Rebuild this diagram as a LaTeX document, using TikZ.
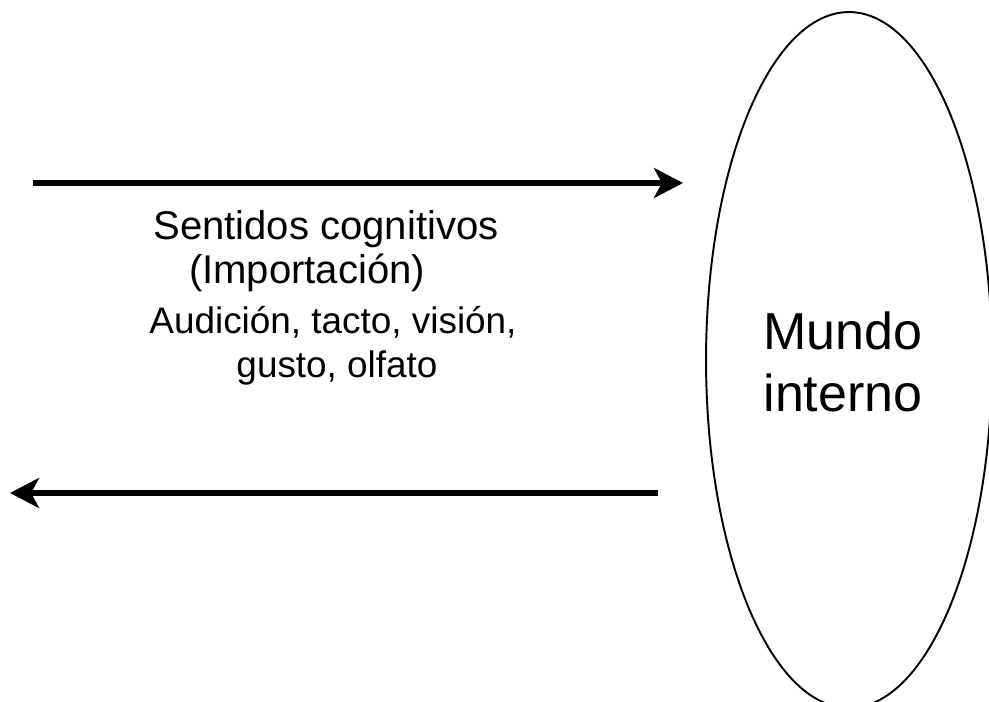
\documentclass[tikz,border=0pt]{standalone}
\usepackage{fontspec}
\setmainfont{Liberation Sans}
\usetikzlibrary{positioning,shapes.geometric,arrows.meta}

\begin{document}
\begin{tikzpicture}[x=0.02cm, y=-0.02cm,
    flow/.style={line width=3.2pt, -{Stealth[length=16.5pt, width=17pt, inset=4.5pt]}},
    big/.style={anchor=base, inner sep=0pt, font=\fontsize{22.8}{25}\selectfont},
    small/.style={anchor=base, inner sep=0pt, font=\fontsize{21}{25}\selectfont}]
                \useasboundingbox (0,0) rectangle (989,702);
                \clip (0,0) rectangle (989,702);
                % Nodes
                \node[ellipse, draw, line width=1.1pt, minimum width=5.72cm, minimum height=13.92cm,
                      inner sep=0pt, align=center, font=\fontsize{29.6}{35.3}\selectfont] (mundo) at (849,360) {};
                \node[align=center, inner sep=0pt, font=\fontsize{29.6}{35.3}\selectfont] (texto) at (843,362) {Mundo\\interno};

                \node[big] (sentidos) at (326,239) {Sentidos cognitivos};
                \node[big] (importacion) at (307,283) {(Importación)};
                \node[small] (audicion) at (333,333) {Audición, tacto, visión,};
                \node[small] (gusto) at (337,377) {gusto, olfato};

                \coordinate (entraA) at (33,183);  % Start of upper arrow
                \coordinate (entraB) at (683,183);
                \coordinate (saleA) at (658,493);  % Start of lower arrow
                \coordinate (saleB) at (10,493);
                % Edges
                \draw[flow] (entraA) -- (entraB);
                \draw[flow] (saleA) -- (saleB);
            \end{tikzpicture}
\end{document}
